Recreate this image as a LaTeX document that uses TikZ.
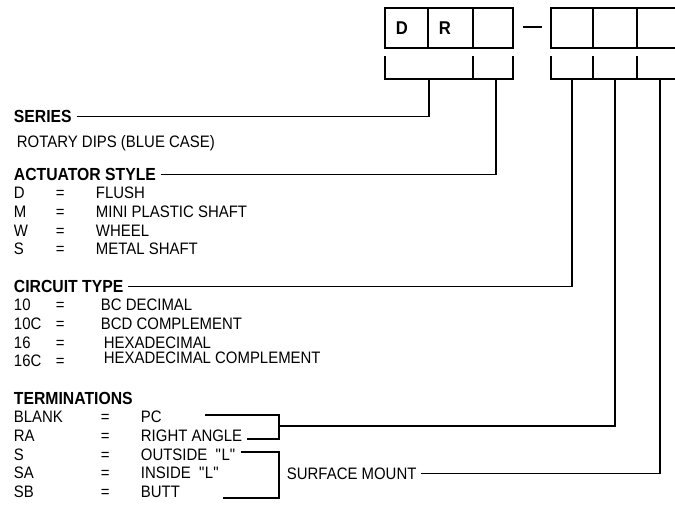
\documentclass[tikz,border=0pt]{standalone}
\usepackage{fontspec}
\setmainfont{Liberation Sans}[FakeStretch=0.9]
\usetikzlibrary{calc}
\tikzset{
  txt/.style={anchor=base west,inner sep=0.75pt,font=\fontsize{16.6}{19}\selectfont},
  hdr/.style={anchor=base west,inner sep=0.75pt,font=\fontsize{17.5}{19}\selectfont\bfseries},
  cell/.style={anchor=base west,inner sep=0.75pt,font=\fontsize{18.5}{20}\selectfont\bfseries},
  box/.style={line width=1.4pt},
  wire/.style={line width=1.2pt}
}

\begin{document}
\begin{tikzpicture}[x=1pt,y=-1pt]
\useasboundingbox (0,0) rectangle (675,504);

%Shape: Part number boxes
\draw [box] (385,8) rectangle (513,48);
\draw [box] (428,8) -- (428,48);
\draw [box] (473,8) -- (473,48);
\draw [box] (677,8) -- (551,8) -- (551,48) -- (677,48);
\draw [box] (593,8) -- (593,48);
\draw [box] (637,8) -- (637,48);
%Straight Lines: dash
\draw [line width=2pt] (523,27) -- (542,27);
% Text Node
\node [cell] (cD) at (395,34.5) {D};
% Text Node
\node [cell] (cR) at (438,34.5) {R};

%Shape: Brackets under the boxes
\draw [wire] (385,56) -- (385,79) -- (513,79) -- (513,56);
\draw [wire] (473,56) -- (473,79);
\draw [wire] (551,56) -- (551,79) -- (677,79);
\draw [wire] (593,56) -- (593,79);
\draw [wire] (637,56) -- (637,79);
\coordinate (tSer) at (429,79);
\coordinate (tAct) at (496,79);
\coordinate (tCir) at (572,79);
\coordinate (tTer) at (615,79);
\coordinate (tSmt) at (660,79);

% Text Node: series
\node [hdr] (series) at (13,122.3) {SERIES};
\node [txt] (serTx) at (16,147) {ROTARY DIPS (BLUE CASE)};

% Text Node: actuator style
\node [hdr] (actuator) at (13,180.3) {ACTUATOR STYLE};
\node [txt] (actD) at (13,198.7) {D};
\node [txt] (actDeq) at (55,198.7) {=};
\node [txt] (actDtx) at (95,198.7) {FLUSH};
\node [txt] (actM) at (13,217.3) {M};
\node [txt] (actMeq) at (55,217.3) {=};
\node [txt] (actMtx) at (95,217.3) {MINI PLASTIC SHAFT};
\node [txt] (actW) at (13,236) {W};
\node [txt] (actWeq) at (55,236) {=};
\node [txt] (actWtx) at (95,236) {WHEEL};
\node [txt] (actS) at (13,254.7) {S};
\node [txt] (actSeq) at (55,254.7) {=};
\node [txt] (actStx) at (95,254.7) {METAL SHAFT};

% Text Node: circuit type
\node [hdr] (circuit) at (13,292.3) {CIRCUIT TYPE};
\node [txt] (cir10) at (13,310.7) {10};
\node [txt] (cir10eq) at (55,310.7) {=};
\node [txt] (cir10tx) at (100,310.7) {BC DECIMAL};
\node [txt] (cir10C) at (13,329.3) {10C};
\node [txt] (cir10Ceq) at (55,329.3) {=};
\node [txt] (cir10Ctx) at (100,329.3) {BCD COMPLEMENT};
\node [txt] (cir16) at (13,348) {16};
\node [txt] (cir16eq) at (55,348) {=};
\node [txt] (cir16tx) at (103,348) {HEXADECIMAL};
\node [txt] (cir16C) at (13,366.7) {16C};
\node [txt] (cir16Ceq) at (55,366.7) {=};
\node [txt] (cir16Ctx) at (103,363.7) {HEXADECIMAL COMPLEMENT};

% Text Node: terminations
\node [hdr] (termin) at (13,404.3) {TERMINATIONS};
\node [txt] (terBl) at (13,422.7) {BLANK};
\node [txt] (terBleq) at (100,422.7) {=};
\node [txt] (pc) at (140,422.7) {PC};
\node [txt] (terRA) at (13,441.3) {RA};
\node [txt] (terRAeq) at (100,441.3) {=};
\node [txt] (ra) at (140,441.3) {RIGHT ANGLE};
\node [txt] (terS) at (13,460) {S};
\node [txt] (terSeq) at (100,460) {=};
\node [txt] (outs) at (140,460) {OUTSIDE\ \ \textquotedbl L\textquotedbl};
\node [txt] (terSA) at (13,478.7) {SA};
\node [txt] (terSAeq) at (100,478.7) {=};
\node [txt] (ins) at (140,478.7) {INSIDE\ \ \textquotedbl L\textquotedbl};
\node [txt] (terSB) at (13,497.3) {SB};
\node [txt] (terSBeq) at (100,497.3) {=};
\node [txt] (butt) at (140,497.3) {BUTT};
\node [txt] (smt) at (286,479) {SURFACE MOUNT};
\coordinate (brPC) at (279,415);
\coordinate (brSM) at (279,452);

%Straight Lines: leaders
\draw [wire] ([xshift=4pt]series.east) -- (series.east -| tSer) -- (tSer);
\draw [wire] ([xshift=4pt]actuator.east) -- (actuator.east -| tAct) -- (tAct);
\draw [wire] ([xshift=4pt]circuit.east) -- (circuit.east -| tCir) -- (tCir);
\draw [wire] (205,415) -- (brPC) -- (brPC |- 0,439) -- ([xshift=4pt]ra.east |- 0,439);
\draw [wire] (brPC |- 0,426) -| (tTer);
\draw [wire] ([xshift=4pt]outs.east |- brSM) -- (brSM) -- (brSM |- 0,498) -- (223,498);
\draw [wire] ([xshift=4pt]smt.east) -| (tSmt);

\end{tikzpicture}
\end{document}
